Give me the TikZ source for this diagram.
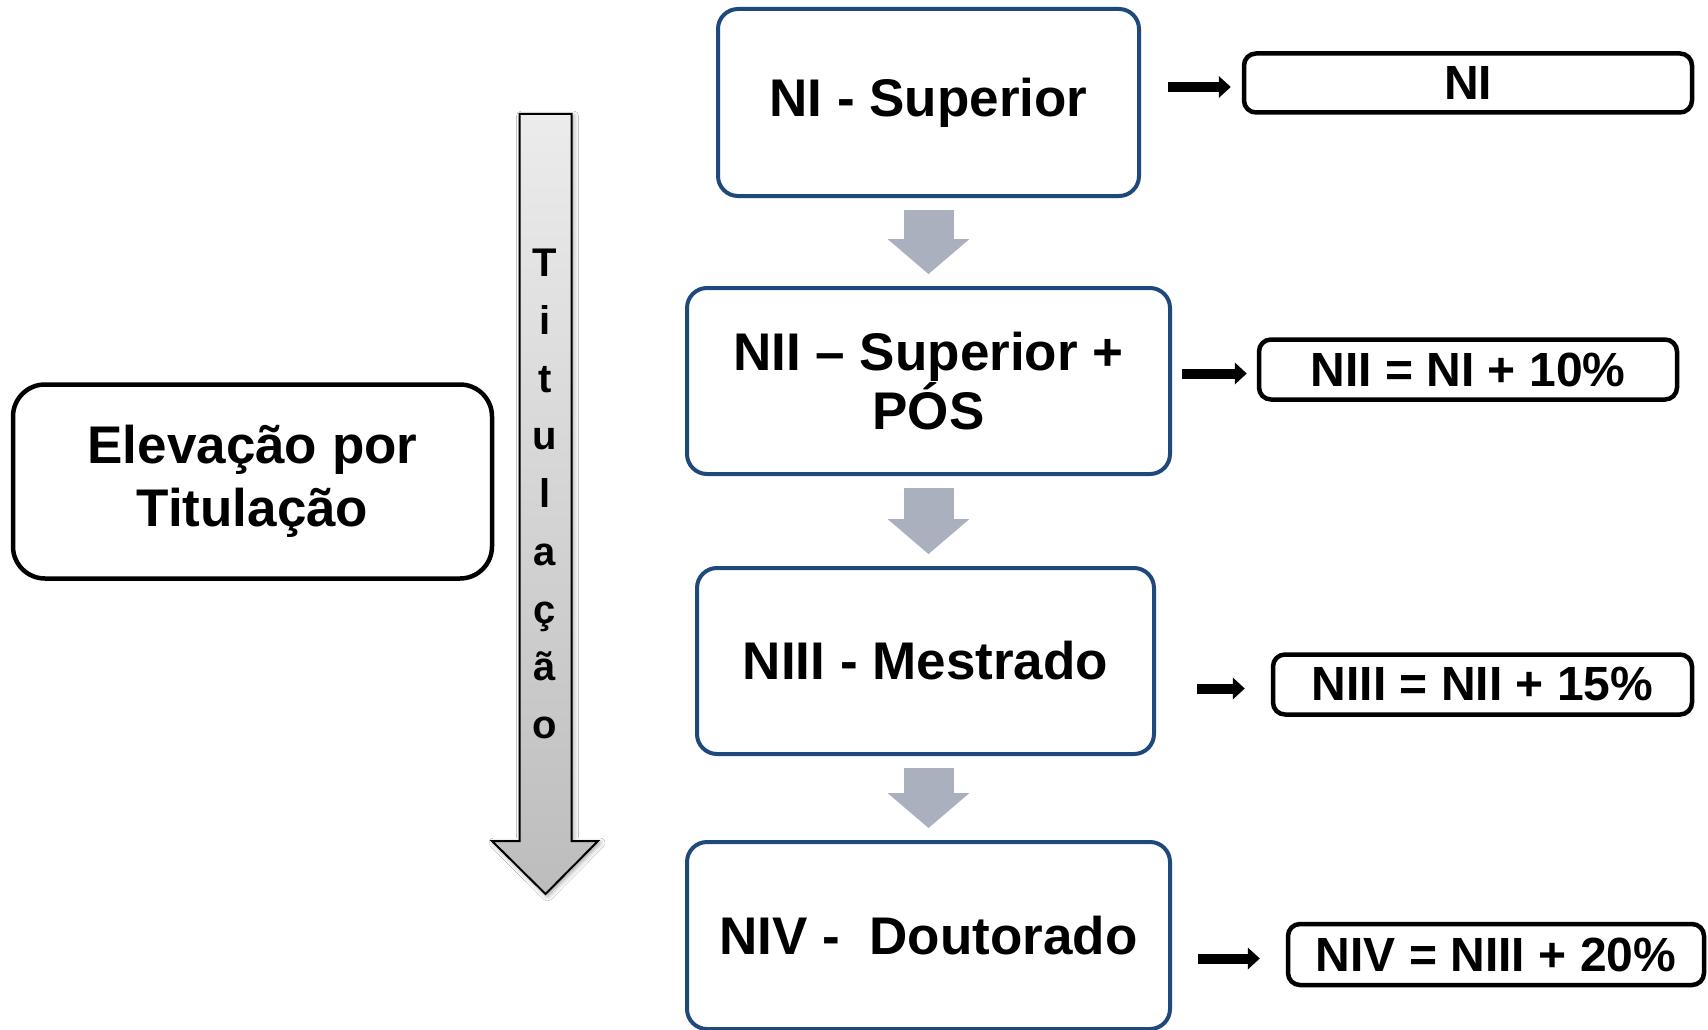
\documentclass[tikz,border=0pt]{standalone}
\usepackage{fontspec}
\setmainfont{Liberation Sans}
\usepackage{xcolor}
\usetikzlibrary{arrows.meta,shadows.blur}

\definecolor{boxblue}{RGB}{31,73,125}
\definecolor{stepgray}{RGB}{171,176,190}

\tikzset{
  level/.style={draw=boxblue, line width=4pt, rounded corners=20pt, fill=white,
    align=center, inner sep=0pt, font=\fontsize{53}{54}\selectfont\bfseries},
  gain/.style={draw=black, line width=4.5pt, rounded corners=12pt, fill=white,
    inner sep=0pt, font=\fontsize{48}{50}\selectfont\bfseries},
  stepdown/.style={draw=stepgray, line width=50pt,
    -{Triangle[width=82pt,length=35pt,line width=0pt]},
    shorten <=12pt, shorten >=12pt},
  pointer/.style={draw=black, line width=10pt,
    -{Triangle[width=22pt,length=12pt,line width=0pt]}},
}

\begin{document}
\begin{tikzpicture}[x=1pt,y=-1pt]
    \path[use as bounding box, fill=white] (0,0) rectangle (1708,1030);

    % Left label
    \node[draw=black, line width=4.5pt, rounded corners=32pt, align=center,
      minimum width=479pt, minimum height=194pt, inner sep=0pt,
      font=\fontsize{53}{63}\selectfont\bfseries]
      (elev) at (252.5,481.5) {Elevação por\\Titulação};

    % Vertical arrow
    \shade[top color=gray!15, bottom color=gray!52, draw=black, line width=2pt,
      blur shadow={shadow xshift=2pt, shadow yshift=-2pt, shadow blur radius=5pt}]
      (519.5,114) -- (571.5,114) -- (571.5,841) -- (598,841) -- (545.5,894)
      -- (492,841) -- (519.5,841) -- cycle;
    \node[align=center, inner sep=0pt, font=\fontsize{40}{57.75}\selectfont\bfseries]
      (tit) at (545,494) {T\\i\\t\\u\\l\\a\\ç\\ã\\o};

    % Levels
    \node[level, minimum width=421pt, minimum height=187pt] (ni) at (928.5,102.5) {NI - Superior};
    \node[level, minimum width=483pt, minimum height=186pt] (nii) at (928.5,381) {NII – Superior +\\PÓS};
    \node[level, minimum width=457pt, minimum height=186pt] (niii) at (925.5,661) {NIII - Mestrado};
    \node[level, minimum width=483pt, minimum height=187pt] (niv) at (928.5,935.5) {NIV -\ \ Doutorado};

    % Values
    \node[gain, minimum width=448pt, minimum height=59pt] (nir) at (1468,83) {NI};
    \node[gain, minimum width=418pt, minimum height=60pt] (niir) at (1468,369.5) {NII = NI + 10\%};
    \node[gain, minimum width=419pt, minimum height=60pt] (niiir) at (1482.5,684.5) {NIII = NII + 15\%};
    \node[gain, minimum width=416pt, minimum height=61pt] (nivr) at (1496,954.5) {NIV = NIII + 20\%};

    % Arrows
    \draw[stepdown] (ni.south) -- (nii.north);
    \draw[stepdown] (nii.south) -- (nii.south |- niii.north);
    \draw[stepdown] (nii.south |- niii.south) -- (niv.north);

    \draw[pointer, transform canvas={yshift=-4pt}, shorten <=27pt, shorten >=11pt] (ni.east |- nir.west) -- (nir.west);
    \draw[pointer, transform canvas={yshift=-4pt}, shorten <=10pt, shorten >=10pt] (nii.east |- niir.west) -- (niir.west);
    \draw[pointer, transform canvas={yshift=-4pt}, shorten <=41pt, shorten >=26pt] (niii.east |- niiir.west) -- (niiir.west);
    \draw[pointer, transform canvas={yshift=-4pt}, shorten <=26pt, shorten >=26pt] (niv.east |- nivr.west) -- (nivr.west);
\end{tikzpicture}
\end{document}
